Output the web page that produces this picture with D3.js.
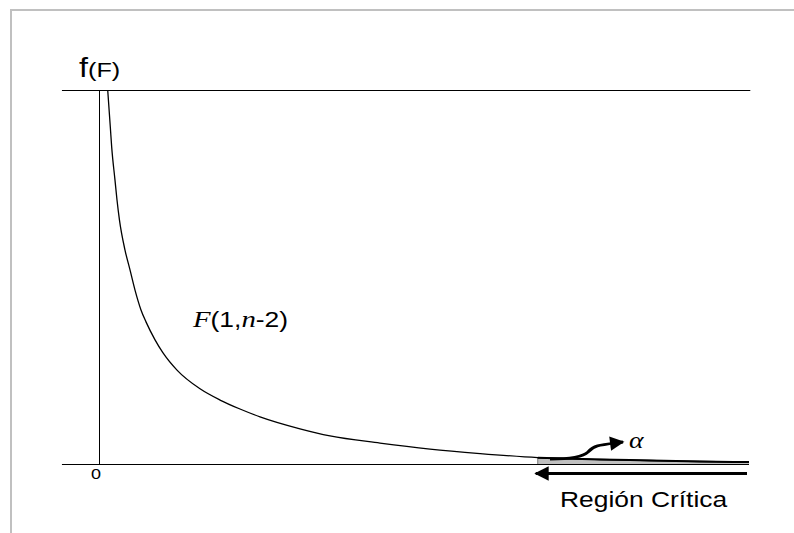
<!DOCTYPE html>
<html>
<head>
<meta charset="utf-8">
<script src="https://cdn.jsdelivr.net/npm/d3@7"></script>
<style>
  html, body { margin: 0; padding: 0; background: #fff; }
  svg { display: block; }
</style>
</head>
<body>
<svg id="chart" width="794" height="533"></svg>
<script>
// F values (horizontal) and density heights of the F(1, n-2) curve
const fValues = [0.134, 0.174, 0.195, 0.246, 0.277, 0.315, 0.4, 0.477, 0.554, 0.646, 0.723, 0.862,
                 0.985, 1.2, 1.554, 1.862, 2.169, 2.477, 3.092, 3.554, 4.323, 5.092, 5.862, 6.75,
                 7.708, 8.477, 9.246, 10];
const density = [1.0, 0.901, 0.848, 0.759, 0.706, 0.652, 0.572, 0.519, 0.465, 0.412, 0.38, 0.332,
                 0.297, 0.251, 0.201, 0.171, 0.147, 0.126, 0.094, 0.075, 0.056, 0.040, 0.028, 0.017,
                 0.012, 0.0094, 0.0067, 0.0053];
const criticalF = [6.75];
const xTickLabels = ["0"];

const curve = fValues.map((f, i) => ({ f, d: density[i] }));
const tail = curve.filter(p => p.f >= criticalF[0]);

const svg = d3.select("#chart");

const x = d3.scaleLinear().domain([0, 10]).range([99, 749]);
const y = d3.scaleLinear().domain([0, 1]).range([464, 90]);

const SANS = "Liberation Sans, Arial, sans-serif";
const SERIF = "Liberation Serif, Times New Roman, serif";
const TEXT_STRETCH = 1.2;

// text drawn slightly wide, anchored at its baseline origin
function label(px, py) {
  return svg.append("text")
    .attr("transform", `translate(${px},${py}) scale(${TEXT_STRETCH},1)`)
    .attr("fill", "#000");
}

// frame border (top and left)
svg.append("path")
  .attr("d", "M11,533 L11,10 L794,10")
  .attr("fill", "none")
  .attr("stroke", "#c0c0c0")
  .attr("stroke-width", 2);

// shaded rejection area under the tail
svg.append("path")
  .datum(tail)
  .attr("d", d3.area().x(p => x(p.f)).y0(y(0)).y1(p => y(p.d)).curve(d3.curveMonotoneX))
  .attr("fill", "#c0c0c0")
  .attr("stroke", "none");

svg.append("line")
  .attr("x1", x(criticalF[0])).attr("x2", x(criticalF[0]))
  .attr("y1", y(0)).attr("y2", y(tail[0].d))
  .attr("stroke", "#777").attr("stroke-width", 1);

// axes
svg.append("line")
  .attr("x1", x(-0.57)).attr("x2", x(10))
  .attr("y1", y(0) + 0.5).attr("y2", y(0) + 0.5)
  .attr("stroke", "#000").attr("stroke-width", 1);
svg.append("line")
  .attr("x1", x(-0.57)).attr("x2", x(10.02))
  .attr("y1", y(1) + 0.5).attr("y2", y(1) + 0.5)
  .attr("stroke", "#000").attr("stroke-width", 1);
svg.append("line")
  .attr("x1", x(0) + 0.5).attr("x2", x(0) + 0.5)
  .attr("y1", y(1)).attr("y2", y(0))
  .attr("stroke", "#000").attr("stroke-width", 1);

// density curve
const densityLine = d3.line().x(p => x(p.f)).y(p => y(p.d)).curve(d3.curveMonotoneX);
svg.append("path")
  .datum(curve)
  .attr("d", densityLine)
  .attr("fill", "none")
  .attr("stroke", "#000")
  .attr("stroke-width", 1.3);

svg.append("path")
  .datum(tail)
  .attr("d", densityLine)
  .attr("fill", "none")
  .attr("stroke", "#000")
  .attr("stroke-width", 2);

// arrowheads
svg.append("defs").append("marker")
  .attr("id", "head")
  .attr("viewBox", "0 0 10 10")
  .attr("refX", 9).attr("refY", 5)
  .attr("markerWidth", 5.2).attr("markerHeight", 4.8)
  .attr("markerUnits", "strokeWidth")
  .attr("orient", "auto")
  .append("path")
  .attr("d", "M0,0 L10,5 L0,10 Z")
  .attr("fill", "#000");

// curved pointer to alpha
svg.append("path")
  .attr("d", "M550,459 C572,459 583,457 588,452 C594,445 600,445 623,442")
  .attr("fill", "none")
  .attr("stroke", "#000")
  .attr("stroke-width", 3)
  .attr("marker-end", "url(#head)");

// critical region arrow
svg.append("line")
  .attr("x1", x(10) - 2).attr("x2", x(criticalF[0]) - 2)
  .attr("y1", 473.5).attr("y2", 473.5)
  .attr("stroke", "#000")
  .attr("stroke-width", 3)
  .attr("marker-end", "url(#head)");

// labels
xTickLabels.forEach(t => {
  label(x(+t) - 3, 479)
    .attr("text-anchor", "middle")
    .attr("font-family", SANS)
    .attr("font-size", 15)
    .text(t);
});

const fLabel = label(79, 77).attr("font-family", SANS);
fLabel.append("tspan").attr("font-size", 27).text("f");
fLabel.append("tspan").attr("font-size", 21).text("(F)");

const distLabel = label(193, 327).attr("font-family", SANS).attr("font-size", 22);
distLabel.append("tspan")
  .attr("font-family", SERIF).attr("font-style", "italic").attr("font-size", 24).text("F");
distLabel.append("tspan").text("(1,");
distLabel.append("tspan")
  .attr("font-family", SERIF).attr("font-style", "italic").attr("font-size", 24).text("n");
distLabel.append("tspan").text("-2)");

label(629, 448)
  .attr("font-family", SERIF)
  .attr("font-style", "italic")
  .attr("font-size", 23)
  .text("α");

label(560, 507)
  .attr("font-family", SANS)
  .attr("font-size", 22)
  .text("Región Crítica");
</script>
</body>
</html>
